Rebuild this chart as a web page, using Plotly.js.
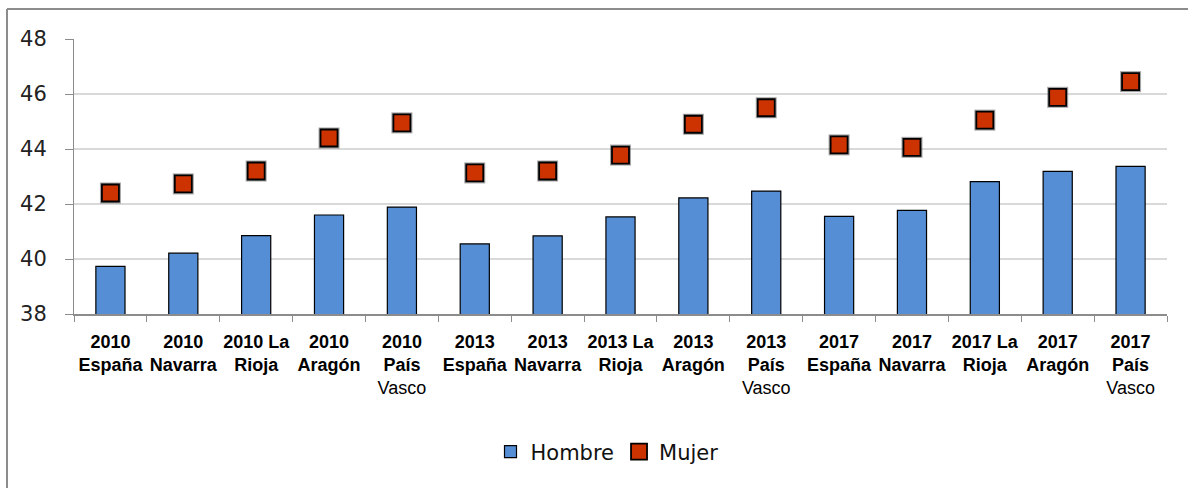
<!DOCTYPE html>
<html>
<head>
<meta charset="utf-8">
<script src="https://cdn.plot.ly/plotly-3.0.1.min.js"></script>
<style>
html,body{margin:0;padding:0;background:#fff;}
#chart{width:1188px;height:488px;}
</style>
</head>
<body>
<div id="chart"></div>
<script>
// Category labels (year + region), with line breaks as in the reference
const categories = [
  "<b>2010</b><br><b>España</b>", "<b>2010</b><br><b>Navarra</b>", "<b>2010 La</b><br><b>Rioja</b>",
  "<b>2010</b><br><b>Aragón</b>", "<b>2010</b><br><b>País</b><br>Vasco",
  "<b>2013</b><br><b>España</b>", "<b>2013</b><br><b>Navarra</b>", "<b>2013 La</b><br><b>Rioja</b>",
  "<b>2013</b><br><b>Aragón</b>", "<b>2013</b><br><b>País</b><br>Vasco",
  "<b>2017</b><br><b>España</b>", "<b>2017</b><br><b>Navarra</b>", "<b>2017 La</b><br><b>Rioja</b>",
  "<b>2017</b><br><b>Aragón</b>", "<b>2017</b><br><b>País</b><br>Vasco"
];
const hombre = [39.73, 40.21, 40.85, 41.6, 41.89, 40.55, 40.84, 41.53, 42.22, 42.47, 41.55, 41.77, 42.81, 43.19, 43.37];
const mujer  = [42.4, 42.73, 43.2, 44.4, 44.95, 43.13, 43.2, 43.78, 44.9, 45.5, 44.15, 44.06, 45.05, 45.88, 46.45];
const yTicks = [38, 40, 42, 44, 46, 48];

const traces = [
  {
    type: "bar", name: "Hombre", x: categories, y: hombre,
    marker: {color: "#558ED5", line: {color: "#000", width: 1.2}},
    hoverinfo: "y"
  },
  {
    type: "scatter", mode: "markers", name: "shadow", showlegend: false, x: categories, y: mujer,
    marker: {symbol: "square", size: 21, color: "rgba(90,90,90,0.55)", line: {width: 0}},
    hoverinfo: "skip"
  },
  {
    type: "scatter", mode: "markers", name: "Mujer", x: categories, y: mujer,
    marker: {symbol: "square", size: 17, color: "#CC3300", line: {color: "#000", width: 1.8}},
    hoverinfo: "y"
  }
];

const L = 74, R = 21, T = 39, B = 174;
const W = 1188 - L - R, H = 488 - T - B;

const layout = {
  width: 1188, height: 488,
  margin: {l: L, r: R, t: T, b: B, pad: 0},
  paper_bgcolor: "#fff", plot_bgcolor: "#fff",
  bargap: 0.6,
  showlegend: true,
  legend: {
    orientation: "h", x: (607 - L) / W, xanchor: "center", y: (314 - 452) / H, yanchor: "middle",
    font: {family: "DejaVu Sans, Verdana, sans-serif", size: 21, color: "#111"},
    itemwidth: 30, tracegroupgap: 0, traceorder: "normal"
  },
  xaxis: {
    type: "category",
    range: [-0.5, categories.length - 0.5],
    showgrid: false,
    showline: true, linecolor: "#8c8c8c", linewidth: 2,
    ticks: "outside", tickson: "boundaries", ticklen: 6, tickcolor: "#8c8c8c", tickwidth: 1,
    tickangle: 0,
    tickfont: {family: "Liberation Sans, Arial, sans-serif", size: 18, color: "#000"},
    ticklabelstandoff: 10,
    fixedrange: true
  },
  yaxis: {
    range: [38, 48], tickvals: yTicks, ticktext: yTicks.map(String),
    showgrid: true, gridcolor: "#d9d9d9", gridwidth: 1.5,
    showline: true, linecolor: "#8c8c8c", linewidth: 1,
    ticks: "outside", ticklen: 8, tickcolor: "#8c8c8c", tickwidth: 1,
    tickfont: {family: "DejaVu Sans, Verdana, sans-serif", size: 21, color: "#222"},
    ticklabelstandoff: 14,
    zeroline: false, fixedrange: true
  },
  shapes: [
    {type: "line", xref: "paper", yref: "paper", x0: (7 - L) / W, x1: (1200 - L) / W, y0: (314 - 9) / H, y1: (314 - 9) / H,
     line: {color: "#8c8c8c", width: 2}},
    {type: "line", xref: "paper", yref: "paper", x0: (7 - L) / W, x1: (7 - L) / W, y0: (314 - 9) / H, y1: (314 - 500) / H,
     line: {color: "#8c8c8c", width: 2}}
  ]
};

Plotly.newPlot("chart", traces, layout, {displayModeBar: false, responsive: false});
</script>
</body>
</html>
